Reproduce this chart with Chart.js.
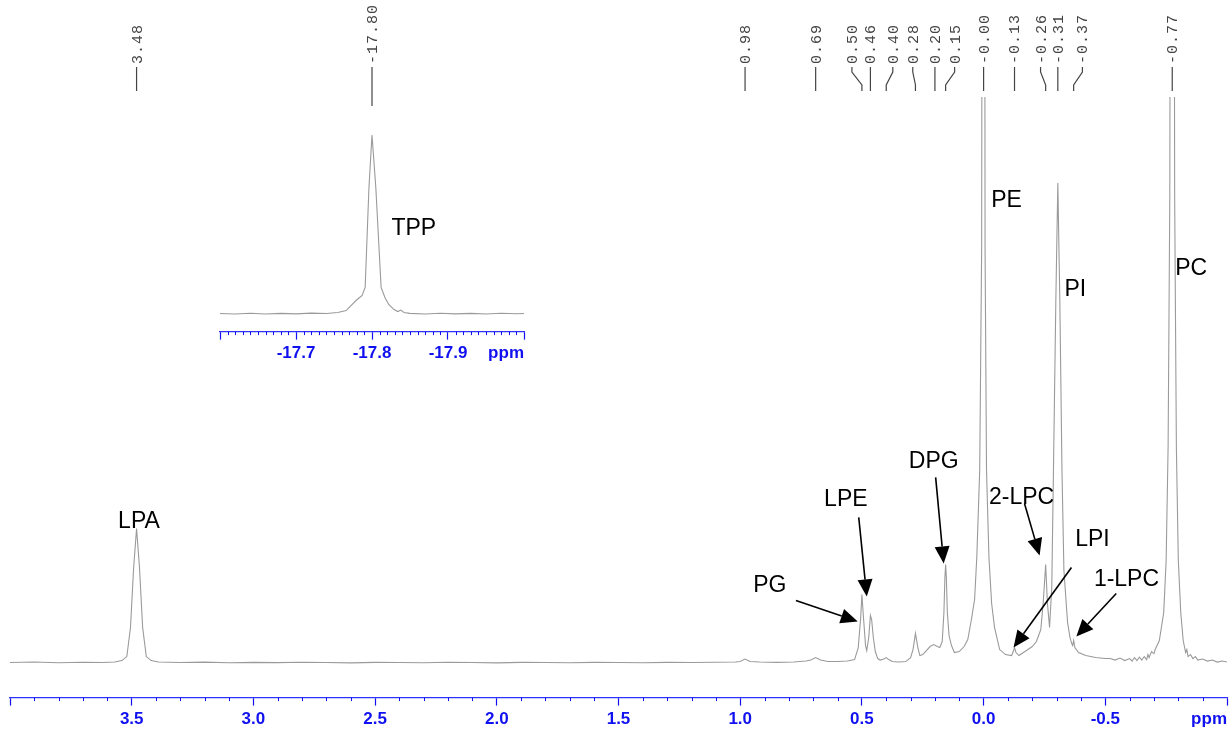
<!DOCTYPE html>
<html>
<head>
<meta charset="utf-8">
<script src="https://cdn.jsdelivr.net/npm/chart.js@4.4.1/dist/chart.umd.min.js"></script>
<style>
  html, body { margin: 0; padding: 0; background: #fff; overflow: hidden; }
  #wrap { position: relative; width: 1231px; height: 731px; overflow: hidden; }
  #wrap canvas { position: absolute; left: 0; top: 0; }
</style>
</head>
<body>
<div id="wrap">
  <canvas id="spectrum" width="1231" height="740"></canvas>
  <canvas id="inset" width="1231" height="740"></canvas>
</div>
<script>
// 31P spectrum, chemical shift (ppm) and intensity
const mainShift = [
  4.00, 3.90, 3.80, 3.70, 3.62, 3.57,
  3.54, 3.52, 3.505, 3.492, 3.48, 3.468, 3.455, 3.44, 3.42, 3.39,
  3.30, 3.20, 3.10, 3.00, 2.90, 2.80, 2.70, 2.60, 2.50, 2.40, 2.30, 2.20, 2.10, 2.00,
  1.90, 1.80, 1.70, 1.60, 1.50, 1.40, 1.30, 1.20, 1.10, 1.02,
  1.00, 0.98, 0.96, 0.92, 0.85, 0.78, 0.73,
  0.71, 0.69, 0.67, 0.64, 0.60, 0.56, 0.53,
  0.515, 0.505, 0.50, 0.495, 0.485, 0.48, 0.472, 0.465, 0.46, 0.453, 0.445, 0.435, 0.425, 0.41, 0.40, 0.39, 0.375, 0.35, 0.32, 0.30,
  0.29, 0.28, 0.27, 0.262, 0.25, 0.235, 0.22, 0.205, 0.19, 0.18,
  0.17, 0.163, 0.159, 0.156, 0.153, 0.149, 0.142, 0.132, 0.12, 0.10, 0.08, 0.065, 0.05, 0.037, 0.028, 0.016, 0.008, 0.0,
  -0.006, -0.012, -0.022, -0.033, -0.045, -0.066, -0.09, -0.115, -0.122, -0.127, -0.133, -0.145, -0.17, -0.20, -0.217, -0.235, -0.245, -0.255, -0.262, -0.271,
  -0.28, -0.287, -0.297, -0.305, -0.313, -0.322, -0.33, -0.345, -0.355, -0.362, -0.366, -0.37, -0.375, -0.39, -0.42, -0.46, -0.50,
  -0.52, -0.54, -0.56, -0.58, -0.60, -0.61, -0.62, -0.63, -0.64, -0.65, -0.66, -0.67, -0.675, -0.68, -0.69, -0.70, -0.705, -0.722, -0.74, -0.75, -0.758, -0.765, -0.775,
  -0.785, -0.792, -0.80, -0.81, -0.82, -0.83, -0.835, -0.84, -0.85, -0.86, -0.87, -0.88, -0.90, -0.92, -0.94, -0.96, -0.98, -1.00
];
const mainIntensity = [
  35, 35.5, 34.8, 35.3, 35, 35.6,
  37, 41, 70, 130, 169, 130, 70, 41, 37, 35.6,
  35, 35.4, 34.8, 35.2, 34.9, 35.3, 35, 34.7, 35.2, 35, 34.8, 35.3, 35, 34.7,
  35.2, 35, 34.8, 35.2, 35, 34.8, 35.2, 35, 35.3, 35.5,
  36, 38.5, 36, 35.5, 35.2, 35.5, 36.5,
  37.5, 40, 37.5, 36, 36, 36.5, 38,
  50, 80, 103, 85, 52, 47, 60, 82, 78, 60, 46, 39, 37.5, 38.5, 40, 38, 36, 35.5, 36, 40,
  48, 64, 50, 42, 43, 47, 51, 53, 51, 50,
  56, 85, 120, 133, 120, 85, 62, 52, 45, 46, 51, 58, 78, 98, 140, 227, 450, 2000,
  450, 227, 140, 94, 70, 48, 43, 42, 46, 50, 45, 42, 46, 51, 56, 68, 95, 133, 95, 70,
  110, 227, 400, 514, 400, 227, 127, 75, 60, 54, 52, 57, 50, 45, 42, 40, 39,
  39, 37.5, 39.5, 37, 39, 36.5, 40, 37, 40.5, 37.5, 41, 38, 43, 40, 46, 44, 48, 57, 85, 137, 250, 500, 2000,
  500, 250, 137, 85, 57, 45, 48, 41, 43, 39, 41, 37.5, 38.5, 36.5, 37.5, 35.5, 36.5, 35.5
];

// inset: TPP reference peak
const tppShift = [
  -17.60, -17.62, -17.64, -17.66, -17.68, -17.70, -17.72, -17.74, -17.755, -17.766,
  -17.779, -17.787, -17.791, -17.796, -17.80, -17.805, -17.812, -17.817, -17.822, -17.829,
  -17.834, -17.838, -17.842, -17.85, -17.87, -17.89, -17.91, -17.93, -17.95, -17.97, -17.99, -18.00
];
const tppIntensity = [
  18, 17.5, 18.3, 17.6, 18.2, 17.7, 18.4, 18, 19, 21,
  31, 36, 44, 144, 196, 144, 44, 34, 27, 22,
  20, 21.5, 19, 18.2, 17.6, 18.3, 17.7, 18.2, 17.6, 18.3, 17.8, 18
];

// peak picking labels on top
const peakText  = ['3.48', '0.98', '0.69', '0.50', '0.46', '0.40', '0.28', '0.20', '0.15', '-0.00', '-0.13', '-0.26', '-0.31', '-0.37', '-0.77'];
const peakShift = [3.48, 0.98, 0.69, 0.50, 0.465, 0.40, 0.28, 0.20, 0.156, 0.0, -0.127, -0.255, -0.305, -0.37, -0.775];
const peakTagAt = [3.48, 0.98, 0.69, 0.541, 0.465, 0.373, 0.291, 0.20, 0.119, 0.0, -0.127, -0.234, -0.305, -0.406, -0.775];

// compound names (ppm, intensity) and arrows
const noteText  = ['LPA', 'PE', 'PC', 'PI', 'DPG', 'LPE', 'PG', '2-LPC', 'LPI', '1-LPC'];
const noteShift = [3.47, -0.094, -0.853, -0.377, 0.205, 0.566, 0.878, -0.156, -0.447, -0.587];
const noteLevel = [176, 496, 429, 408, 236, 198, 112, 200, 158, 118];
const arrowFromShift = [0.513, 0.771, 0.197, -0.168, -0.361, -0.545];
const arrowFromLevel = [180, 97, 220, 194, 130, 104];
const arrowToShift   = [0.480, 0.517, 0.164, -0.230, -0.123, -0.381];
const arrowToLevel   = [101, 76, 134, 142, 50, 61];

const BLUE = '#1010f0';
const LINE = '#9a9a9a';
const AXIS_FONT = 17;
Chart.defaults.font.family = '"Liberation Sans", Arial, sans-serif';

function toPoints(xs, ys) {
    return xs.map((x, i) => ({ x: x, y: ys[i] }));
}

function drawArrow(ctx, x1, y1, x2, y2) {
    const a = Math.atan2(y2 - y1, x2 - x1), L = 17, W = 7.5;
    const bx = x2 - L * Math.cos(a), by = y2 - L * Math.sin(a);
    ctx.beginPath();
    ctx.moveTo(x1, y1);
    ctx.lineTo(bx, by);
    ctx.stroke();
    ctx.beginPath();
    ctx.moveTo(x2, y2);
    ctx.lineTo(bx + W * Math.sin(a), by - W * Math.cos(a));
    ctx.lineTo(bx - W * Math.sin(a), by + W * Math.cos(a));
    ctx.closePath();
    ctx.fill();
}

// vertical peak labels with their little connector lines
function tagsPlugin(texts, at, tagAt, bottom) {
    return {
        id: 'peakTags',
        afterDraw(chart) {
            const ctx = chart.ctx, sx = chart.scales.x;
            ctx.save();
            ctx.strokeStyle = '#444';
            ctx.fillStyle = '#444';
            ctx.lineWidth = 1.2;
            ctx.font = '15px "Liberation Mono", monospace';
            ctx.letterSpacing = '1px';
            texts.forEach((t, i) => {
                const tx = sx.getPixelForValue(tagAt[i]);
                const px = sx.getPixelForValue(at[i]);
                ctx.beginPath();
                ctx.moveTo(tx, 67);
                ctx.lineTo(tx, 72);
                ctx.lineTo(px, 85);
                ctx.lineTo(px, bottom);
                ctx.stroke();
                ctx.save();
                ctx.translate(tx + 1, 64);
                ctx.rotate(-Math.PI / 2);
                ctx.textAlign = 'left';
                ctx.textBaseline = 'middle';
                ctx.fillText(t, 0, 0);
                ctx.restore();
            });
            ctx.restore();
        }
    };
}

function notesPlugin(texts, xs, ys, arrows) {
    return {
        id: 'notes',
        afterDraw(chart) {
            const ctx = chart.ctx, sx = chart.scales.x, sy = chart.scales.y;
            ctx.save();
            ctx.fillStyle = '#000';
            ctx.strokeStyle = '#000';
            ctx.lineWidth = 1.6;
            ctx.font = '23px "Liberation Sans", Arial, sans-serif';
            ctx.textAlign = 'center';
            ctx.textBaseline = 'middle';
            texts.forEach((t, i) => ctx.fillText(t, sx.getPixelForValue(xs[i]), sy.getPixelForValue(ys[i])));
            if (arrows) {
                arrows.fromX.forEach((v, i) => {
                    drawArrow(ctx,
                        sx.getPixelForValue(v), sy.getPixelForValue(arrows.fromY[i]),
                        sx.getPixelForValue(arrows.toX[i]), sy.getPixelForValue(arrows.toY[i]));
                });
            }
            ctx.restore();
        }
    };
}

// short minor ticks and the "ppm" unit at the right end of the axis
function axisPlugin(isMajor) {
    return {
        id: 'axisExtras',
        afterDraw(chart) {
            const ctx = chart.ctx, sx = chart.scales.x;
            ctx.save();
            ctx.strokeStyle = BLUE;
            ctx.lineWidth = 1;
            sx.ticks.forEach(t => {
                if (isMajor(t.value)) return;
                const px = Math.round(sx.getPixelForValue(t.value)) + 0.5;
                ctx.beginPath();
                ctx.moveTo(px, sx.top);
                ctx.lineTo(px, sx.top + 3.5);
                ctx.stroke();
            });
            // "ppm" sits on the same line as the tick labels
            const lbl = sx._labelItems && sx._labelItems.find(it => it.label !== '');
            ctx.fillStyle = BLUE;
            ctx.font = 'bold ' + AXIS_FONT + 'px "Liberation Sans", Arial, sans-serif';
            ctx.textAlign = 'right';
            ctx.textBaseline = lbl ? lbl.options.textBaseline : 'top';
            const y = lbl ? lbl.options.translation[1] + (lbl.textOffset || 0) : sx.top + 13;
            ctx.fillText('ppm', sx.right, y);
            ctx.restore();
        }
    };
}

function xAxis(min, max, step, isMajor, label) {
    return {
        type: 'linear', min: min, max: max, reverse: true,
        border: { color: '#3030ff', width: 1.2 },
        grid: {
            drawOnChartArea: false, tickLength: 8, tickWidth: 1.2,
            tickColor: c => isMajor(c.tick.value) ? BLUE : 'rgba(0,0,0,0)'
        },
        ticks: {
            stepSize: step, autoSkip: false, maxRotation: 0, padding: 4,
            color: BLUE, font: { size: AXIS_FONT, weight: 'bold' },
            callback: label
        }
    };
}

const mainMajor = v => Math.round(v * 10) % 5 === 0;
const insetMajor = v => Math.round(v * 100) % 10 === 0;

new Chart(document.getElementById('spectrum'), {
    type: 'line',
    data: {
        datasets: [{
            data: toPoints(mainShift, mainIntensity),
            borderColor: LINE, borderWidth: 1.1, pointRadius: 0, tension: 0
        }]
    },
    options: {
        responsive: false, animation: false,
        layout: { padding: { left: 10, right: 0, top: 97, bottom: 6 } },
        plugins: { legend: { display: false }, tooltip: { enabled: false } },
        scales: {
            x: xAxis(-1, 4, 0.1, mainMajor, v => {
                const r = Math.round(v * 10);
                if (r % 5 !== 0 || r === 40 || r === -10) return '';
                return (r / 10).toFixed(1);
            }),
            y: { display: false, min: 0, max: 600 }
        }
    },
    plugins: [
        axisPlugin(mainMajor),
        tagsPlugin(peakText, peakShift, peakTagAt, 91),
        notesPlugin(noteText, noteShift, noteLevel, {
            fromX: arrowFromShift, fromY: arrowFromLevel, toX: arrowToShift, toY: arrowToLevel
        })
    ]
});

new Chart(document.getElementById('inset'), {
    type: 'line',
    data: {
        datasets: [{
            data: toPoints(tppShift, tppIntensity),
            borderColor: LINE, borderWidth: 1.1, pointRadius: 0, tension: 0
        }]
    },
    options: {
        responsive: false, animation: false,
        layout: { padding: { left: 220, right: 707, top: 131, bottom: 372 } },
        plugins: { legend: { display: false }, tooltip: { enabled: false } },
        scales: {
            x: xAxis(-18.0, -17.6, 0.01, insetMajor, v => {
                const r = Math.round(v * 100);
                if (r % 10 !== 0 || r === -1760 || r === -1800) return '';
                return (r / 100).toFixed(1);
            }),
            y: { display: false, min: 0, max: 200 }
        }
    },
    plugins: [
        axisPlugin(insetMajor),
        tagsPlugin(['-17.80'], [-17.80], [-17.80], 106),
        notesPlugin(['TPP'], [-17.855], [103])
    ]
});
</script>
</body>
</html>
